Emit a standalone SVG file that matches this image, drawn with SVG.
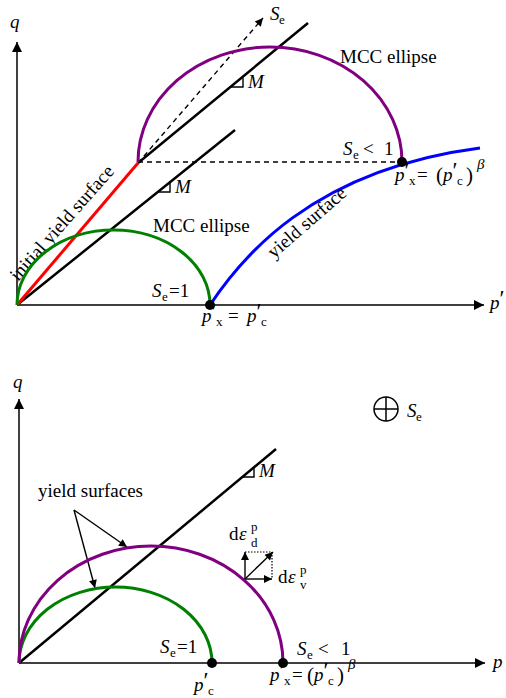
<svg xmlns="http://www.w3.org/2000/svg" width="506" height="698" viewBox="0 0 506 698" font-family="'Liberation Serif','Times New Roman',serif">
<style>
.t{font-family:"Liberation Serif","Times New Roman",serif;font-size:19px;fill:#000}
.i{font-style:italic}
.s{font-size:13px}
.b{font-size:21px}
.pr{font-size:23px}
.ax{stroke:#000;stroke-width:1.5;fill:none}
.ln{stroke:#000;stroke-width:2.5;fill:none}
.thin{stroke:#000;stroke-width:1.4;fill:none}
.cv{stroke-width:3;fill:none}
.dash{stroke:#000;stroke-width:1.4;fill:none;stroke-dasharray:5 4}
.dot{stroke:#000;stroke-width:1.2;fill:none;stroke-dasharray:1.5 1.5}
</style>
<defs>
<marker id="ah" viewBox="0 0 10 10" refX="10" refY="5" markerUnits="userSpaceOnUse" markerWidth="11" markerHeight="10" orient="auto"><path d="M0,0 L10,5 L0,10 Z" fill="#000"/></marker>
<marker id="as" viewBox="0 0 10 10" refX="10" refY="5" markerUnits="userSpaceOnUse" markerWidth="10" markerHeight="8" orient="auto"><path d="M0,0 L10,5 L0,10 Z" fill="#000"/></marker>
</defs>

<g id="upper-plot">
  <g id="connectors-upper">
    <line class="ax" x1="17" y1="305" x2="17" y2="42" marker-end="url(#ah)"/>
    <line class="ax" x1="17" y1="305" x2="484" y2="305" marker-end="url(#ah)"/>
    <line class="ln" x1="17" y1="305" x2="235" y2="130"/>
    <line class="ln" x1="138" y1="163" x2="308" y2="23"/>
    <line class="dash" x1="138" y1="162" x2="402" y2="162"/>
    <line class="dash" x1="138" y1="163" x2="263" y2="18" marker-end="url(#as)"/>
    <path class="thin" d="M231,87 H243 V78"/>
    <path class="thin" d="M158,192 H170 V183"/>
  </g>
  <g id="initial-yield-surface">
    <line x1="17" y1="305" x2="138" y2="163" stroke="#ff0000" stroke-width="3"/>
    <text class="t" transform="rotate(-48.6 18 282)" x="18" y="282">initial yield surface</text>
  </g>
  <g id="mcc-ellipse-small">
    <path class="cv" stroke="#008000" d="M17,305 A96.5,75 0 0 1 210,305"/>
    <text class="t" x="153" y="232">MCC ellipse</text>
  </g>
  <g id="mcc-ellipse-large">
    <path class="cv" stroke="#800080" d="M138,162 A132,115 0 0 1 402,162"/>
    <text class="t" x="340" y="63">MCC ellipse</text>
  </g>
  <g id="yield-surface">
    <path class="cv" stroke="#0000ff" d="M210,305 C240,260 310,170 480,148"/>
    <text class="t" transform="rotate(-41 274 259)" x="274" y="259">yield surface</text>
  </g>
  <g id="points-upper">
    <circle cx="210" cy="305" r="5" fill="#000"/>
    <circle cx="402" cy="162" r="5" fill="#000"/>
  </g>
  <g id="labels-upper">
    <text class="t i" x="10" y="28" font-size="21">q</text>
    <text class="t"><tspan class="i" x="490" y="309">p</tspan><tspan class="pr" x="499.5" y="306">′</tspan></text>
    <text class="t"><tspan class="i" x="270" y="20">S</tspan><tspan class="s" x="279" y="24">e</tspan></text>
    <text class="t i" x="248" y="88">M</text>
    <text class="t i" x="175" y="193">M</text>
    <text class="t"><tspan class="i" x="152" y="297">S</tspan><tspan class="s" x="162" y="301">e</tspan><tspan x="169" y="297">=1</tspan></text>
    <text class="t"><tspan class="i" x="343" y="155">S</tspan><tspan class="s" x="353" y="159">e</tspan><tspan x="363" y="155">&lt;</tspan><tspan x="384" y="155">1</tspan></text>
    <text class="t"><tspan class="i" x="202" y="322">p</tspan><tspan class="pr" x="211.5" y="319">′</tspan><tspan class="s" x="216" y="326">x</tspan><tspan x="228" y="322">=</tspan><tspan class="i" x="247" y="322">p</tspan><tspan class="pr" x="256.5" y="319">′</tspan><tspan class="s" x="261" y="326">c</tspan></text>
    <text class="t"><tspan class="i" x="395" y="181">p</tspan><tspan class="pr" x="404.5" y="178">′</tspan><tspan class="s" x="409" y="185">x</tspan><tspan x="417" y="181">=</tspan><tspan class="b" x="436" y="182">(</tspan><tspan class="i" x="443" y="181">p</tspan><tspan class="pr" x="452.5" y="178">′</tspan><tspan class="s" x="457" y="185">c</tspan><tspan class="b" x="466" y="182">)</tspan><tspan class="i" x="477" y="169" font-size="15">β</tspan></text>
  </g>
</g>

<g id="lower-plot">
  <g id="connectors-lower">
    <line class="ax" x1="19" y1="663" x2="19" y2="399" marker-end="url(#ah)"/>
    <line class="ax" x1="19" y1="663" x2="485" y2="663" marker-end="url(#ah)"/>
    <line class="ln" x1="19" y1="663" x2="276" y2="449"/>
    <path class="thin" d="M243,477 H254 V468"/>
    <line class="thin" x1="74" y1="510" x2="127" y2="547" marker-end="url(#as)"/>
    <line class="thin" x1="74" y1="510" x2="95" y2="588" marker-end="url(#as)"/>
  </g>
  <g id="yield-surface-small">
    <path class="cv" stroke="#008000" d="M19,663 A96.5,76 0 0 1 212,663"/>
  </g>
  <g id="yield-surface-large">
    <path class="cv" stroke="#800080" d="M19,663 A132,117 0 0 1 283,663"/>
  </g>
  <g id="plastic-strain">
    <path class="dot" d="M245,552 H272 V579"/>
    <line class="thin" x1="245" y1="579" x2="245" y2="552" marker-end="url(#as)"/>
    <line class="thin" x1="245" y1="579" x2="272" y2="579" marker-end="url(#as)"/>
    <line class="thin" x1="245" y1="579" x2="273" y2="552" marker-end="url(#as)"/>
    <text class="t"><tspan x="229" y="540">d</tspan><tspan class="i" x="239" y="540">ε</tspan><tspan class="s" x="251" y="531">p</tspan><tspan class="s" x="251" y="547">d</tspan></text>
    <text class="t"><tspan x="278" y="583">d</tspan><tspan class="i" x="288" y="583">ε</tspan><tspan class="s" x="300" y="574">p</tspan><tspan class="s" x="300" y="589">v</tspan></text>
  </g>
  <g id="points-lower">
    <circle cx="212" cy="663" r="5" fill="#000"/>
    <circle cx="283" cy="663" r="5" fill="#000"/>
  </g>
  <g id="legend-se">
    <circle cx="386" cy="409" r="12" fill="none" stroke="#000" stroke-width="1.5"/>
    <path d="M374,409 H398 M386,397 V421" stroke="#000" stroke-width="1.5"/>
    <text class="t"><tspan class="i" x="407" y="417">S</tspan><tspan class="s" x="416" y="421">e</tspan></text>
  </g>
  <g id="labels-lower">
    <text class="t i" x="13" y="388" font-size="21">q</text>
    <text class="t i" x="493" y="668">p</text>
    <text class="t" x="38" y="497">yield surfaces</text>
    <text class="t i" x="259" y="477">M</text>
    <text class="t"><tspan class="i" x="160" y="653">S</tspan><tspan class="s" x="170" y="657">e</tspan><tspan x="177" y="653">=1</tspan></text>
    <text class="t"><tspan class="i" x="297" y="655">S</tspan><tspan class="s" x="307" y="659">e</tspan><tspan x="318" y="655">&lt;</tspan><tspan x="341" y="655">1</tspan></text>
    <text class="t"><tspan class="i" x="194" y="691">p</tspan><tspan class="pr" x="203.5" y="688">′</tspan><tspan class="s" x="208" y="695">c</tspan></text>
    <text class="t"><tspan class="i" x="270" y="681">p</tspan><tspan class="pr" x="279.5" y="678">′</tspan><tspan class="s" x="284" y="685">x</tspan><tspan x="292" y="681">=</tspan><tspan class="b" x="307" y="682">(</tspan><tspan class="i" x="314" y="681">p</tspan><tspan class="pr" x="323.5" y="678">′</tspan><tspan class="s" x="328" y="685">c</tspan><tspan class="b" x="337" y="682">)</tspan><tspan class="i" x="348" y="669" font-size="15">β</tspan></text>
  </g>
</g>
</svg>
